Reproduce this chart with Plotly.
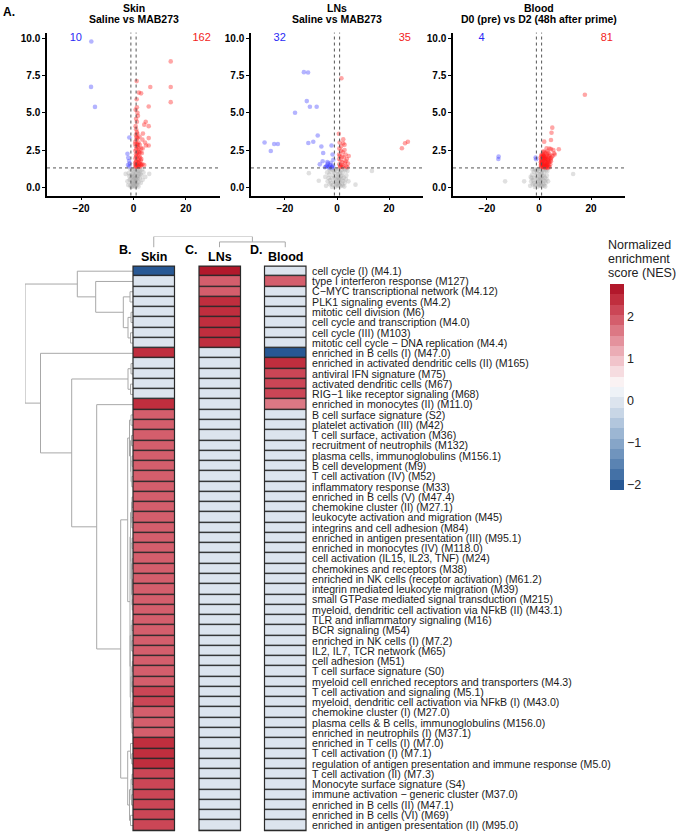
import plotly.graph_objects as go

W, H = 676, 834
FONT = "Liberation Sans, Arial, Helvetica, sans-serif"


def px(x):
    return x / W


def py(y):
    return 1 - y / H


# ================= Volcano plot data (log2FC, -log10 p) =================
panel_names = ["Skin", "LNs", "Blood"]
panel_subtitles = ["Saline vs MAB273", "Saline vs MAB273", "D0 (pre) vs D2 (48h after prime)"]
n_down = [10, 32, 4]
n_up = [162, 35, 81]
fc_cut = 1.0
p_cut = 1.3  # -log10(0.05)
y_ticks = [0, 2.5, 5, 7.5, 10]
x_ticks = [-20, 0, 20]

skin_down = [(-16.1, 9.77), (-16.2, 6.73), (-14.7, 5.39), (-1.6, 3.34), (-2.3, 2.25),
             (-2.0, 1.98), (-1.7, 1.76), (-1.6, 1.4), (-1.4, 1.6), (-2.1, 1.5)]
skin_up = [(14.2, 8.44), (6.4, 6.72), (14.2, 6.72), (14.2, 5.71), (5.8, 5.42), (1.2, 7.12),
           (2.05, 6.35), (2.9, 6.3), (1.2, 5.9), (1.3, 5.36), (4.66, 4.4), (4.1, 4.2),
           (5.8, 4.1), (1.7, 4.8), (1.3, 3.7), (2.3, 3.4), (5.8, 3.3), (3.4, 3.2), (5.8, 2.8),
           (4.8, 2.8), (3.5, 2.6), (4.1, 1.5), (3.4, 1.55), (2.6, 1.4),
           (0.8, 4.1), (1.0, 3.9), (1.4, 3.6), (0.9, 3.5), (1.6, 3.3), (1.1, 3.2), (0.7, 3.05),
           (1.9, 3.0), (1.3, 2.9), (2.4, 2.85), (0.9, 2.75), (1.5, 2.7), (2.0, 2.6), (1.1, 2.55),
           (0.7, 2.45), (1.8, 2.4), (2.6, 2.35), (1.3, 2.3), (0.9, 2.2), (1.6, 2.15), (2.2, 2.1),
           (1.0, 2.05), (0.7, 1.95), (1.4, 1.9), (1.9, 1.85), (2.8, 1.8), (1.1, 1.75), (0.8, 1.7),
           (1.6, 1.65), (2.3, 1.6), (1.2, 1.55), (0.9, 1.5), (1.5, 1.45), (2.0, 1.42), (0.7, 1.4),
           (1.1, 1.38), (1.8, 1.36), (3.0, 1.9), (2.5, 2.0), (3.2, 2.3), (2.9, 2.6), (1.3, 4.4),
           (1.0, 4.6), (0.8, 5.2), (1.5, 5.0), (3.6, 3.6), (4.4, 3.0), (3.0, 1.5), (2.2, 1.7),
           (0.6, 2.9), (0.6, 1.6), (1.2, 3.35), (1.7, 2.85), (2.1, 2.35), (2.7, 1.55)]
skin_ns = [(-0.5, 0.05), (0.2, 0.1), (0.8, 0.08), (1.5, 0.15), (-1.2, 0.12), (0.0, 0.2), (0.6, 0.25),
           (1.2, 0.3), (-0.8, 0.3), (2.0, 0.35), (0.3, 0.4), (-0.3, 0.45), (1.0, 0.5), (1.7, 0.55),
           (-1.5, 0.5), (0.5, 0.6), (-0.6, 0.65), (2.4, 0.6), (0.0, 0.7), (1.3, 0.75), (-1.0, 0.8),
           (0.7, 0.85), (2.0, 0.9), (-0.2, 0.95), (1.0, 1.0), (-1.8, 0.95), (0.4, 1.05), (1.6, 1.1),
           (-0.7, 1.15), (0.9, 1.2), (2.5, 1.15), (-1.3, 1.25), (0.2, 1.25), (3.0, 0.8), (3.5, 0.5),
           (2.8, 0.3), (-2.3, 0.4), (-2.0, 0.15), (1.9, 0.05), (-0.9, 0.02), (0.6, 0.02), (1.4, 0.6),
           (0.1, 0.55), (-0.4, 0.15), (1.1, 0.2), (0.8, 0.4), (-1.6, 0.75), (2.2, 1.05), (3.8, 1.0),
           (4.5, 0.7), (-3.0, 0.9), (6.0, 0.9), (3.3, 1.2), (-0.1, 0.32), (0.4, 0.75), (1.8, 0.78),
           (-1.1, 0.55), (2.6, 0.9), (0.9, 0.62), (-0.4, 0.88)]

lns_down = [(-12.7, 7.72), (-11.1, 7.7), (-11.6, 5.78), (-16.1, 5.0), (-10.4, 5.4), (-7.8, 5.4),
            (-27.8, 3.0), (-25.4, 2.43), (-24.1, 2.9), (-22.7, 2.9), (-11.0, 2.97), (-9.1, 3.05),
            (-7.4, 3.47), (-6.0, 2.74), (-5.3, 2.3), (-5.5, 1.75), (-6.6, 1.54), (-2.1, 2.8),
            (-1.7, 2.2), (-3.7, 1.7), (-4.6, 1.35), (-3.9, 1.45), (-3.2, 1.4), (-2.6, 1.5),
            (-2.0, 1.38), (-1.5, 1.45), (-3.5, 1.6), (-2.4, 1.65), (-1.4, 1.85), (-4.2, 1.4),
            (-2.9, 1.32), (-1.8, 1.33)]
lns_up = [(1.7, 7.31), (0.7, 3.59), (2.4, 3.22), (2.4, 2.95), (2.9, 2.85), (24.9, 2.62), (26.1, 2.95),
          (27.2, 3.05), (0.9, 2.6), (1.5, 2.45), (2.2, 2.35), (3.3, 2.2), (1.1, 2.1), (2.6, 2.0),
          (3.8, 1.9), (1.4, 1.8), (2.0, 1.7), (3.0, 1.65), (0.9, 1.55), (1.7, 1.5), (2.5, 1.45),
          (3.6, 1.4), (1.2, 1.35), (4.2, 1.6), (2.9, 2.5), (1.0, 3.0), (0.8, 2.2), (1.9, 2.05),
          (3.4, 1.75), (1.3, 1.45), (2.2, 1.35), (4.5, 2.1), (0.8, 1.9), (1.6, 2.75), (4.0, 1.35)]
lns_ns = [(-0.5, 0.05), (0.4, 0.1), (1.3, 0.08), (-1.6, 0.15), (2.2, 0.12), (-2.8, 0.2), (0.0, 0.25),
          (1.0, 0.3), (-1.0, 0.35), (3.0, 0.3), (-3.6, 0.4), (0.6, 0.45), (1.8, 0.5), (-0.4, 0.55),
          (-2.0, 0.6), (2.6, 0.65), (0.2, 0.7), (1.4, 0.75), (-1.4, 0.8), (3.6, 0.8), (-3.0, 0.85),
          (0.8, 0.9), (-0.8, 0.95), (2.2, 1.0), (-2.4, 1.05), (0.0, 1.1), (1.6, 1.15), (-1.8, 1.2),
          (3.2, 1.15), (-3.8, 1.0), (0.5, 1.25), (-0.3, 0.18), (1.9, 0.22), (-2.2, 0.28), (2.8, 0.05),
          (-4.2, 0.1), (4.4, 0.4), (-0.9, 0.62), (1.1, 0.58), (-2.6, 0.48), (2.4, 0.42), (0.3, 0.85),
          (-1.2, 1.1), (1.2, 1.0), (4.0, 1.1), (-4.5, 0.7), (-10.8, 0.95), (-7.0, 0.44), (7.1, 0.18),
          (13.4, 1.1), (-0.1, 0.4), (0.9, 0.15), (-1.9, 0.02), (2.0, 0.78), (-3.2, 0.62), (3.4, 0.55),
          (0.7, 0.6), (-0.6, 1.22), (2.9, 1.25), (-2.9, 1.2)]

blood_down = [(-15.5, 2.06), (-15.6, 1.9), (-1.3, 2.0), (-1.1, 1.88)]
blood_up = [(17.6, 6.21), (5.1, 4.0), (4.8, 3.66), (4.6, 3.17), (2.0, 3.06), (2.9, 2.61), (4.6, 2.56),
            (7.6, 2.55), (5.8, 2.28), (1.6, 2.4), (1.0, 2.2), (1.8, 2.15), (2.6, 2.1), (3.4, 2.05),
            (4.2, 2.2), (1.3, 2.0), (2.1, 1.95), (2.9, 1.9), (3.7, 1.95), (4.5, 1.85), (0.8, 1.85),
            (1.6, 1.8), (2.4, 1.75), (3.2, 1.7), (4.0, 1.7), (1.1, 1.65), (1.9, 1.6), (2.7, 1.55),
            (3.5, 1.5), (0.7, 1.5), (1.4, 1.45), (2.2, 1.42), (3.0, 1.38), (3.8, 1.4), (1.0, 1.35),
            (1.7, 1.33), (2.5, 1.32), (3.3, 1.3), (0.9, 1.75), (2.0, 2.05), (3.0, 2.2), (4.8, 2.0),
            (1.5, 2.25), (2.5, 2.3), (3.6, 2.3), (0.6, 2.0), (1.2, 1.55), (2.8, 1.65), (4.3, 1.55),
            (2.1, 1.5), (3.9, 2.1), (1.6, 1.38), (2.9, 1.45), (0.8, 1.42), (4.1, 1.35), (3.4, 1.85),
            (1.9, 1.9), (2.3, 1.62), (1.3, 1.72), (2.6, 1.88), (3.1, 1.57), (0.9, 2.1), (1.7, 2.08),
            (4.6, 1.75), (3.7, 1.62), (2.4, 2.0), (1.1, 1.9), (5.2, 2.1), (3.2, 2.4), (2.0, 2.38),
            (1.4, 2.12), (0.7, 1.68), (4.4, 1.95), (2.8, 1.4), (1.8, 1.48), (3.6, 1.78), (2.2, 1.85),
            (1.0, 1.58), (6.0, 2.2), (5.5, 2.5), (4.0, 2.6)]
blood_ns = [(-0.5, 0.05), (0.4, 0.1), (1.2, 0.08), (-1.4, 0.15), (2.0, 0.12), (-2.4, 0.2), (0.0, 0.25),
            (0.9, 0.3), (-0.9, 0.35), (2.6, 0.3), (-3.0, 0.4), (0.5, 0.45), (1.6, 0.5), (-0.3, 0.55),
            (-1.8, 0.6), (2.3, 0.65), (0.2, 0.7), (1.3, 0.75), (-1.2, 0.8), (3.0, 0.8), (-2.6, 0.85),
            (0.7, 0.9), (-0.7, 0.95), (1.9, 1.0), (-2.0, 1.05), (0.0, 1.1), (1.4, 1.15), (-1.5, 1.2),
            (2.7, 1.15), (0.4, 1.25), (-0.2, 0.18), (1.7, 0.22), (-1.9, 0.28), (2.4, 0.05), (-3.4, 0.1),
            (3.5, 0.4), (-0.8, 0.62), (1.0, 0.58), (-2.3, 0.48), (2.1, 0.42), (0.3, 0.85), (-1.0, 1.1),
            (1.1, 1.0), (3.2, 1.1), (-3.2, 0.7), (-13.0, 0.4), (-5.7, 0.4), (13.1, 0.89), (-0.1, 0.4),
            (0.8, 0.15), (-1.6, 0.02), (1.8, 0.78), (-2.8, 0.62), (2.9, 0.55), (0.6, 0.6), (-0.5, 1.22),
            (2.4, 1.25), (-2.5, 1.2)]

# ================= Heatmap data (NES) =================
modules = [
    "cell cycle (I) (M4.1)",
    "type I interferon response (M127)",
    "C\u2212MYC transcriptional network (M4.12)",
    "PLK1 signaling events (M4.2)",
    "mitotic cell division (M6)",
    "cell cycle and transcription (M4.0)",
    "cell cycle (III) (M103)",
    "mitotic cell cycle \u2212 DNA replication (M4.4)",
    "enriched in B cells (I) (M47.0)",
    "enriched in activated dendritic cells (II) (M165)",
    "antiviral IFN signature (M75)",
    "activated dendritic cells (M67)",
    "RIG\u22121 like receptor signaling (M68)",
    "enriched in monocytes (II) (M11.0)",
    "B cell surface signature (S2)",
    "platelet activation (III) (M42)",
    "T cell surface, activation (M36)",
    "recruitment of neutrophils (M132)",
    "plasma cells, immunoglobulins (M156.1)",
    "B cell development (M9)",
    "T cell activation (IV) (M52)",
    "inflammatory response (M33)",
    "enriched in B cells (V) (M47.4)",
    "chemokine cluster (II) (M27.1)",
    "leukocyte activation and migration (M45)",
    "integrins and cell adhesion (M84)",
    "enriched in antigen presentation (III) (M95.1)",
    "enriched in monocytes (IV) (M118.0)",
    "cell activation (IL15, IL23, TNF) (M24)",
    "chemokines and receptors (M38)",
    "enriched in NK cells (receptor activation) (M61.2)",
    "integrin mediated leukocyte migration (M39)",
    "small GTPase mediated signal transduction (M215)",
    "myeloid, dendritic cell activation via NFkB (II) (M43.1)",
    "TLR and inflammatory signaling (M16)",
    "BCR signaling (M54)",
    "enriched in NK cells (I) (M7.2)",
    "IL2, IL7, TCR network (M65)",
    "cell adhesion (M51)",
    "T cell surface signature (S0)",
    "myeloid cell enriched receptors and transporters (M4.3)",
    "T cell activation and signaling (M5.1)",
    "myeloid, dendritic cell activation via NFkB (I) (M43.0)",
    "chemokine cluster (I) (M27.0)",
    "plasma cells & B cells, immunoglobulins (M156.0)",
    "enriched in neutrophils (I) (M37.1)",
    "enriched in T cells (I) (M7.0)",
    "T cell activation (I) (M7.1)",
    "regulation of antigen presentation and immune response (M5.0)",
    "T cell activation (II) (M7.3)",
    "Monocyte surface signature (S4)",
    "immune activation \u2212 generic cluster (M37.0)",
    "enriched in B cells (II) (M47.1)",
    "enriched in B cells (VI) (M69)",
    "enriched in antigen presentation (II) (M95.0)",
]

nes_skin = ([-2.0] + [0.0] * 7 + [2.4] + [0.0] * 4 + [2.4] + [1.85] * 4 + [1.95] * 23
            + [2.2] * 2 + [1.95] * 3 + [2.45] * 3 + [2.25] * 6)
nes_lns = [2.7, 1.95, 1.95, 2.45, 2.45, 2.3, 2.3, 2.3] + [0.0] * 47
nes_blood = ([0.0, 1.95] + [0.0] * 6 + [-2.0, 2.4, 2.2, 2.2, 2.2, 1.75] + [0.0] * 41)
columns = ["Skin", "LNs", "Blood"]
column_tags = ["B.", "C.", "D."]

# colour bins of the NES scale (bottom -> top)
nes_min, nes_max = -2.14, 2.78
bin_colors = ["rgb(40,88,148)", "rgb(68,113,166)", "rgb(90,131,178)", "rgb(112,148,189)",
              "rgb(134,165,200)", "rgb(156,182,211)", "rgb(178,198,221)", "rgb(200,214,230)",
              "rgb(220,228,238)", "rgb(238,242,247)", "rgb(250,242,243)", "rgb(246,220,224)",
              "rgb(241,196,203)", "rgb(235,172,181)", "rgb(228,146,157)", "rgb(220,120,132)",
              "rgb(212,94,108)", "rgb(203,70,86)", "rgb(192,46,62)", "rgb(178,24,43)"]

# dendrograms: [height, left, right]; leaves are row / column indices
row_tree = [108,
            [55.7, 0, [37.3, 1, [9.7, [3.0, 2, 3], [5.0, [2.0, 4, 5], [2.5, 6, 7]]]]],
            [92.5, 8,
             [61.3,
              [5.0, [2.0, 9, 10], [2.5, 11, 12]],
              [36.3, 13,
               [12.3,
                [5.3,
                 [3.5, [2.0, 14, 15], [2.5, [1.5, 16, 17], [2.0, [1.0, 18, 19], [1.2, 20, 21]]]],
                 [3.0,
                  [2.5, [1.5, [1.0, 22, 23], [1.2, 24, 25]],
                   [2.0, [1.0, 26, 27], [1.5, [0.8, 28, 29], [1.0, [0.6, 30, 31], [0.8, 32, 33]]]]],
                  [2.8, [1.8, [1.0, 34, 35], [1.3, 36, 37]],
                   [2.2, [1.2, [0.7, 38, 39], [0.9, 40, 41]], [1.6, [0.8, 42, 43], [1.0, 44, 45]]]]]],
                [5.3, [2.5, 46, [1.2, 47, 48]],
                 [3.5, [2.0, [1.0, 49, 50], [1.5, 51, 52]], [2.5, 53, 54]]]]]]]]
col_tree = [11.0, 0, [5.5, 1, 2]]

# ================= Build figure =================
fig = go.Figure()
layout_axes = {}

GREY = "rgba(165,165,165,0.35)"
BLUE = "rgba(40,40,255,0.35)"
RED = "rgba(255,20,20,0.38)"
BOLD = dict(family=FONT, size=10, color="black", weight="bold")

panel_x_domains = [(47, 220), (251, 423), (453, 625)]
panels = [(skin_down, skin_up, skin_ns), (lns_down, lns_up, lns_ns), (blood_down, blood_up, blood_ns)]

shapes = []
annotations = []
for i, (down, up, ns) in enumerate(panels):
    k = "" if i == 0 else str(i + 1)
    xa, ya = "x" + k, "y" + k
    for pts, col in [(ns, GREY), (down, BLUE), (up, RED)]:
        fig.add_trace(go.Scatter(x=[p[0] for p in pts], y=[p[1] for p in pts], mode="markers",
                                 marker=dict(size=4.6, color=col, line=dict(width=0)),
                                 xaxis=xa, yaxis=ya, hoverinfo="skip", showlegend=False))
    fig.add_trace(go.Scatter(x=[-22, 26], y=[10, 10], mode="text",
                             text=[str(n_down[i]), str(n_up[i])],
                             textfont=dict(family=FONT, size=11, color=["#2a2af5", "#f22222"]),
                             xaxis=xa, yaxis=ya, hoverinfo="skip", showlegend=False))
    d0, d1 = panel_x_domains[i]
    layout_axes["xaxis" + k] = dict(domain=[px(d0), px(d1)], range=[-33, 33], anchor=ya,
                                    showline=True, linecolor="black", linewidth=1.5,
                                    ticks="outside", ticklen=3, tickwidth=1.2, tickcolor="black",
                                    tickvals=x_ticks, tickfont=BOLD, showgrid=False, zeroline=False)
    layout_axes["yaxis" + k] = dict(domain=[py(195), py(31.7)], range=[-0.55, 10.37], anchor=xa,
                                    showline=True, linecolor="black", linewidth=1.5,
                                    ticks="outside", ticklen=3, tickwidth=1.2, tickcolor="black",
                                    tickvals=y_ticks, ticktext=["%.1f" % v for v in y_ticks],
                                    tickfont=BOLD, showgrid=False, zeroline=False)
    dot = dict(color="#555555", width=1, dash="dot")
    shapes.append(dict(type="line", xref=xa + " domain", x0=0, x1=1, yref=ya, y0=p_cut, y1=p_cut, line=dot))
    for fc in (-fc_cut, fc_cut):
        shapes.append(dict(type="line", xref=xa, x0=fc, x1=fc, yref=ya + " domain", y0=0, y1=1, line=dot))
    cx = (d0 + d1) / 2
    annotations.append(dict(text="<b>%s</b>" % panel_names[i], x=px(cx), y=py(7), xref="paper", yref="paper",
                            showarrow=False, xanchor="center", yanchor="middle",
                            font=dict(family=FONT, size=10.5, color="black")))
    annotations.append(dict(text="<b>%s</b>" % panel_subtitles[i], x=px(cx), y=py(18.5), xref="paper",
                            yref="paper", showarrow=False, xanchor="center", yanchor="middle",
                            font=dict(family=FONT, size=10.5, color="black")))

annotations.append(dict(text="<b>A.</b>", x=px(1), y=py(11), xref="paper", yref="paper", showarrow=False,
                        xanchor="left", yanchor="middle", font=dict(family=FONT, size=12, color="black")))

# ---- heatmaps ----
nb = len(bin_colors)
colorscale = []
for j, c in enumerate(bin_colors):
    colorscale.append([j / nb, c])
    colorscale.append([(j + 1) / nb, c])

n_rows = len(modules)
rows = list(range(n_rows))
hm_top, hm_bot = 265.7, 831.7
col_domains = [(133, 174.5), (199, 240.5), (264.5, 306)]
for i, vals in enumerate([nes_skin, nes_lns, nes_blood]):
    n = str(4 + i)
    xa, ya = "x" + n, "y" + n
    trace = dict(z=[[v] for v in vals], x=[0], y=rows, xaxis=xa, yaxis=ya,
                 zmin=nes_min, zmax=nes_max, colorscale=colorscale, ygap=1.4,
                 hoverinfo="skip", showscale=(i == 2))
    if i == 2:
        trace["colorbar"] = dict(x=px(610), xanchor="left", xpad=0, y=py(284), yanchor="top", ypad=0,
                                 len=206, lenmode="pixels", thickness=14, outlinewidth=0,
                                 tickvals=[-2, -1, 0, 1, 2], ticks="",
                                 tickfont=dict(family=FONT, size=12.5, color="#222222"))
    fig.add_trace(go.Heatmap(**trace))
    c0, c1 = col_domains[i]
    yax = dict(domain=[py(hm_bot), py(hm_top)], range=[n_rows - 0.5, -0.5], anchor=xa,
               showgrid=False, zeroline=False, showticklabels=False)
    if i == 2:
        yax.update(side="right", showticklabels=True, tickvals=rows, ticktext=modules,
                   ticks="outside", ticklen=3, tickcolor="rgba(0,0,0,0)",
                   tickfont=dict(family=FONT, size=10.6, color="#1a1a1a"))
    layout_axes["yaxis" + n] = yax
    layout_axes["xaxis" + n] = dict(domain=[px(c0), px(c1)], range=[-0.5, 0.5], anchor=ya,
                                    visible=False)
    shapes.append(dict(type="rect", xref=xa + " domain", yref=ya + " domain", x0=0, x1=1, y0=0, y1=1,
                       fillcolor="#2a2a2a", line=dict(width=0), layer="below"))
    shapes.append(dict(type="rect", xref=xa + " domain", yref=ya + " domain", x0=0, x1=1, y0=0, y1=1,
                       fillcolor="rgba(0,0,0,0)", line=dict(width=1.2, color="#2a2a2a"), layer="above"))
    cc = (c0 + c1) / 2
    annotations.append(dict(text="<b>%s</b>" % columns[i], x=px(cc), y=py(256.5), xref="paper",
                            yref="paper", showarrow=False, xanchor="center", yanchor="middle",
                            font=dict(family=FONT, size=12.5, color="black")))
    annotations.append(dict(text="<b>%s</b>" % column_tags[i], x=px(c0 - 8), y=py(249.5), xref="paper",
                            yref="paper", showarrow=False, xanchor="center", yanchor="middle",
                            font=dict(family=FONT, size=12.5, color="black")))

# colour bar title
for txt, yy in [("Normalized", 245), ("enrichment", 259), ("score (NES)", 272.5)]:
    annotations.append(dict(text=txt, x=px(606), y=py(yy), xref="paper", yref="paper", showarrow=False,
                            xanchor="left", yanchor="middle",
                            font=dict(family=FONT, size=12.5, color="#222222")))


# ---- dendrograms ----
def walk(node, segs):
    if isinstance(node, int):
        return float(node), 0.0
    h, a, b = node
    ca, ha = walk(a, segs)
    cb, hb = walk(b, segs)
    segs.append([(ca, ha), (ca, h), (cb, h), (cb, hb)])
    return (ca + cb) / 2, h


DCOL = "#a8a8a8"
segs = []
walk(row_tree, segs)
dx, dy = [], []
for s in segs:
    dx += [p[1] for p in s] + [None]
    dy += [p[0] for p in s] + [None]
fig.add_trace(go.Scatter(x=dx, y=dy, mode="lines", line=dict(color=DCOL, width=1),
                         xaxis="x7", yaxis="y7", hoverinfo="skip", showlegend=False))
layout_axes["xaxis7"] = dict(domain=[px(25), px(133)], range=[row_tree[0], 0], anchor="y7", visible=False)
layout_axes["yaxis7"] = dict(domain=[py(hm_bot), py(hm_top)], range=[n_rows - 0.5, -0.5], anchor="x7",
                             visible=False)

segs = []
walk(col_tree, segs)
dx, dy = [], []
for s in segs:
    dx += [p[0] for p in s] + [None]
    dy += [p[1] for p in s] + [None]
fig.add_trace(go.Scatter(x=dx, y=dy, mode="lines", line=dict(color=DCOL, width=1),
                         xaxis="x8", yaxis="y8", hoverinfo="skip", showlegend=False))
pitch = 65.75
half = (153.75 - 133) / pitch
layout_axes["xaxis8"] = dict(domain=[px(133), px(306)], range=[-half, 2 + half], anchor="y8", visible=False)
layout_axes["yaxis8"] = dict(domain=[py(247), py(236)], range=[0, col_tree[0]], anchor="x8", visible=False)

fig.update_layout(width=W, height=H, margin=dict(l=0, r=0, t=0, b=0),
                  paper_bgcolor="white", plot_bgcolor="white", showlegend=False,
                  font=dict(family=FONT, color="black"),
                  shapes=shapes, annotations=annotations, **layout_axes)

fig.write_html("out.html", config={"displayModeBar": False})

# remove the browser's default page margin so the figure sits at (0, 0)
with open("out.html", "r", encoding="utf-8") as f:
    html = f.read()
html = html.replace("<head>", "<head><style>html,body{margin:0;padding:0;overflow:hidden;}</style>", 1)
with open("out.html", "w", encoding="utf-8") as f:
    f.write(html)
